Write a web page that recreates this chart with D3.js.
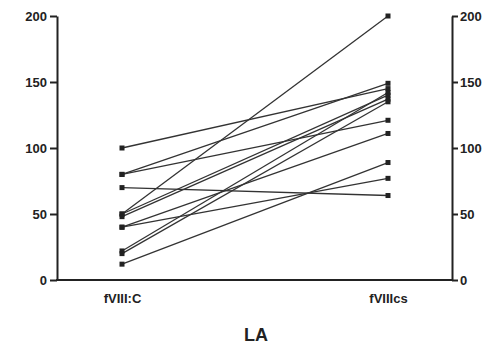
<!DOCTYPE html>
<html><head><meta charset="utf-8">
<script src="https://cdn.jsdelivr.net/npm/d3@7"></script>
<style>body{margin:0;background:#fff}svg text{font-family:"Liberation Sans",Arial,sans-serif;font-weight:bold;fill:#222}</style>
</head><body><svg id="c" width="494" height="351"></svg>
<script>
const categories = ["fVIII:C", "fVIIIcs"];
const before = [100, 80, 80, 70, 50, 50, 48, 40, 40, 22, 20, 12];
const after  = [145, 121, 149, 64, 200, 140, 137, 111, 77, 142, 135, 89];
const yTicks = [0, 50, 100, 150, 200];
const xTitle = "LA";

const svg = d3.select("#c");
const x = d3.scalePoint().domain(categories).range([122, 388]);
const y = d3.scaleLinear().domain([0, 200]).range([280, 16]);

const lines = before.map((b, i) => [b, after[i]]);
svg.append("g").selectAll("line").data(lines).join("line")
  .attr("x1", x(categories[0])).attr("x2", x(categories[1]))
  .attr("y1", d => y(d[0])).attr("y2", d => y(d[1]))
  .attr("stroke", "#333").attr("stroke-width", 1.3);
const pts = [];
lines.forEach(d => { pts.push([categories[0], d[0]]); pts.push([categories[1], d[1]]); });
svg.append("g").selectAll("rect").data(pts).join("rect")
  .attr("x", d => x(d[0]) - 2.5).attr("y", d => y(d[1]) - 2.5)
  .attr("width", 5).attr("height", 5).attr("fill", "#222");

function styleAxis(g, fs){
  g.selectAll("path,line").attr("stroke", "#222").attr("stroke-width", 2);
  g.selectAll("text").attr("font-size", fs).attr("fill", "#222").attr("font-family", "Liberation Sans, Arial, sans-serif").attr("font-weight", "bold");
}
const left = svg.append("g").attr("transform", "translate(57,0)")
  .call(d3.axisLeft(y).tickValues(yTicks).tickSize(7).tickSizeOuter(0).tickPadding(3));
styleAxis(left, 13);
const right = svg.append("g").attr("transform", "translate(452,0)")
  .call(d3.axisRight(y).tickValues(yTicks).tickSize(6).tickSizeOuter(0).tickPadding(2));
styleAxis(right, 13);
const xb = d3.scaleLinear().domain([0,1]).range([56, 453]);
const bottom = svg.append("g").attr("transform", "translate(0,280)")
  .call(d3.axisBottom(x).tickSize(0).tickPadding(14));
bottom.select(".domain").remove();
bottom.append("line").attr("x1", xb(0)).attr("x2", xb(1)).attr("y1", 0).attr("y2", 0);
styleAxis(bottom, 13);

svg.append("text").attr("x", 256).attr("y", 341).attr("text-anchor", "middle")
  .attr("font-size", 18).text(xTitle);
</script></body></html>
